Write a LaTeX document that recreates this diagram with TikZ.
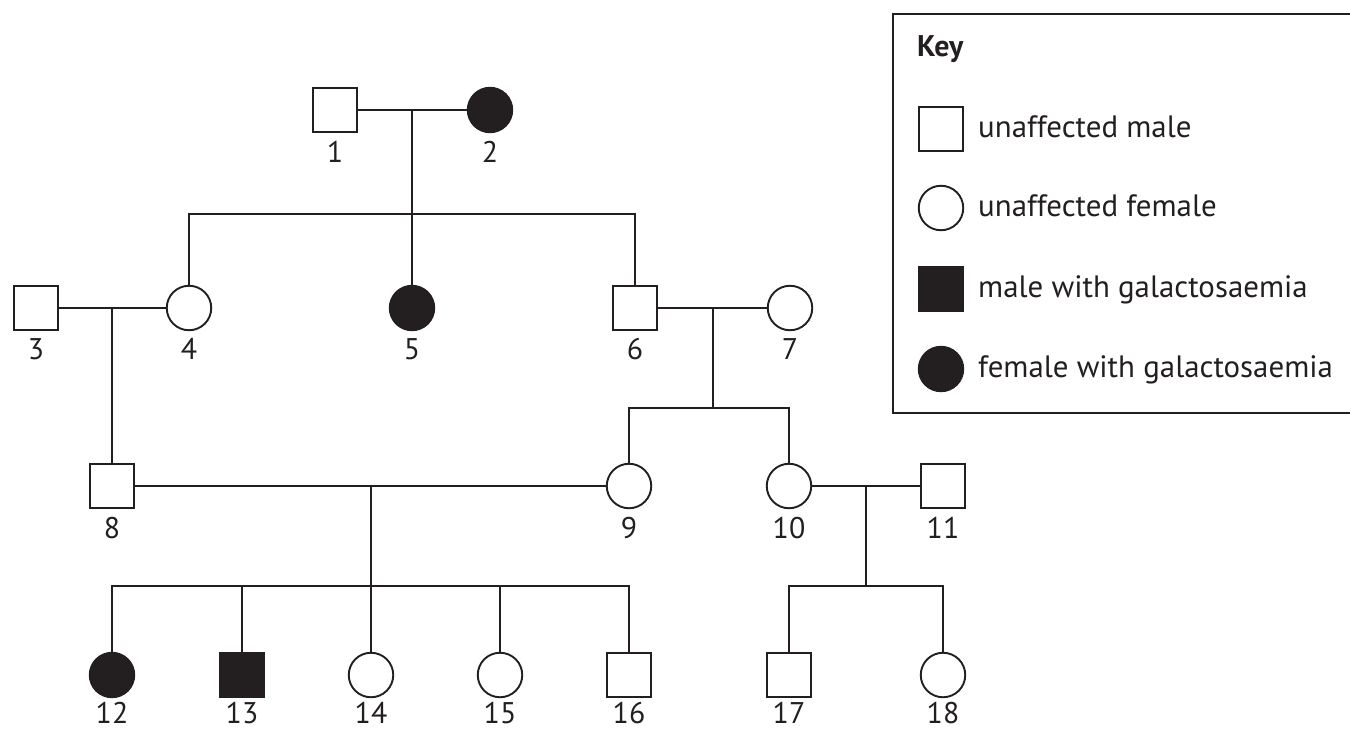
\documentclass[tikz,border=0pt]{standalone}
\usepackage{fontspec}
\setmainfont{PT Sans}
\definecolor{ink}{HTML}{231F20}
\begin{document}
\begin{tikzpicture}[x=1bp,y=-1bp,
  male/.style={rectangle, draw=ink, line width=1.9bp, minimum size=44.5bp, inner sep=0pt, fill=white},
  female/.style={circle, draw=ink, line width=1.9bp, minimum size=44.5bp, inner sep=0pt, fill=white},
  aff/.style={fill=ink},
  num/.style={anchor=base, inner sep=0pt, font=\fontsize{30}{32}\selectfont, text=ink},
  keytxt/.style={anchor=base west, inner sep=0pt, font=\fontsize{31}{34}\selectfont, text=ink},
  line/.style={line width=1.9bp, draw=ink}]
\useasboundingbox (0,0) rectangle (1350,731);
% generation I
\node[male] (n1) at (335,110) {};
\node[female,aff] (n2) at (490,110) {};
\coordinate (m12) at (412,110);
\coordinate (s1) at (412,214);
% generation II
\node[male] (n3) at (36,308) {};
\node[female] (n4) at (189,308) {};
\node[female,aff] (n5) at (412,308) {};
\node[male] (n6) at (635,308) {};
\node[female] (n7) at (790,308) {};
\coordinate (m34) at (112,308);
\coordinate (m67) at (713,308);
\coordinate (s67) at (713,408);
% generation III
\node[male] (n8) at (112,486) {};
\node[female] (n9) at (629,486) {};
\node[female] (n10) at (789,486) {};
\node[male] (n11) at (943,486) {};
\coordinate (m89) at (371,486);
\coordinate (s89) at (371,586);
\coordinate (m1011) at (866,486);
\coordinate (s1011) at (866,586);
% generation IV
\node[female,aff] (n12) at (112,675) {};
\node[male,aff] (n13) at (242,675) {};
\node[female] (n14) at (371,675) {};
\node[female] (n15) at (500,675) {};
\node[male] (n16) at (629,675) {};
\node[male] (n17) at (789,675) {};
\node[female] (n18) at (943,675) {};
% connectors
\draw[line] (n1.east) -- (n2.west);
\draw[line] (m12) -- (n5.north);
\draw[line] (n4.north) |- (s1) -| (n6.north);
\draw[line] (n3.east) -- (n4.west);
\draw[line] (m34) -- (n8.north);
\draw[line] (n6.east) -- (n7.west);
\draw[line] (m67) -- (s67);
\draw[line] (n9.north) |- (s67) -| (n10.north);
\draw[line] (n8.east) -- (n9.west);
\draw[line] (m89) -- (n14.north);
\draw[line] (n12.north) |- (s89) -| (n16.north);
\draw[line] (n13.north) -- (n13.north |- s89);
\draw[line] (n15.north) -- (n15.north |- s89);
\draw[line] (n10.east) -- (n11.west);
\draw[line] (m1011) -- (s1011);
\draw[line] (n17.north) |- (s1011) -| (n18.north);
% numbers
\node[num] (l1) at (335,162) {1};
\node[num] (l2) at (490,162) {2};
\node[num] (l3) at (36,359) {3};
\node[num] (l4) at (189,359) {4};
\node[num] (l5) at (412,359) {5};
\node[num] (l6) at (635,359) {6};
\node[num] (l7) at (790,359) {7};
\node[num] (l8) at (112,538) {8};
\node[num] (l9) at (629,538) {9};
\node[num] (l10) at (789,538) {10};
\node[num] (l11) at (943,538) {11};
\node[num] (l12) at (112,723) {12};
\node[num] (l13) at (242,723) {13};
\node[num] (l14) at (371,723) {14};
\node[num] (l15) at (500,723) {15};
\node[num] (l16) at (629,723) {16};
\node[num] (l17) at (789,723) {17};
\node[num] (l18) at (943,723) {18};
% key
\node[draw=ink, line width=1.9bp, rectangle, anchor=north west, minimum width=470bp, minimum height=399bp, inner sep=0pt] (keybox) at (892,13) {};
\node[keytxt, font=\fontsize{30}{34}\selectfont\bfseries] (keyt) at (917,57) {Key};
\node[male] (k1) at (941,129) {};
\node[female] (k2) at (941,208) {};
\node[male,aff] (k3) at (941,289) {};
\node[female,aff] (k4) at (941,369) {};
\node[keytxt] (kt1) at (978,137) {unaffected male};
\node[keytxt] (kt2) at (978,216) {unaffected female};
\node[keytxt] (kt3) at (978,297) {male with galactosaemia};
\node[keytxt] (kt4) at (978,377) {female with galactosaemia};
\end{tikzpicture}
\end{document}
